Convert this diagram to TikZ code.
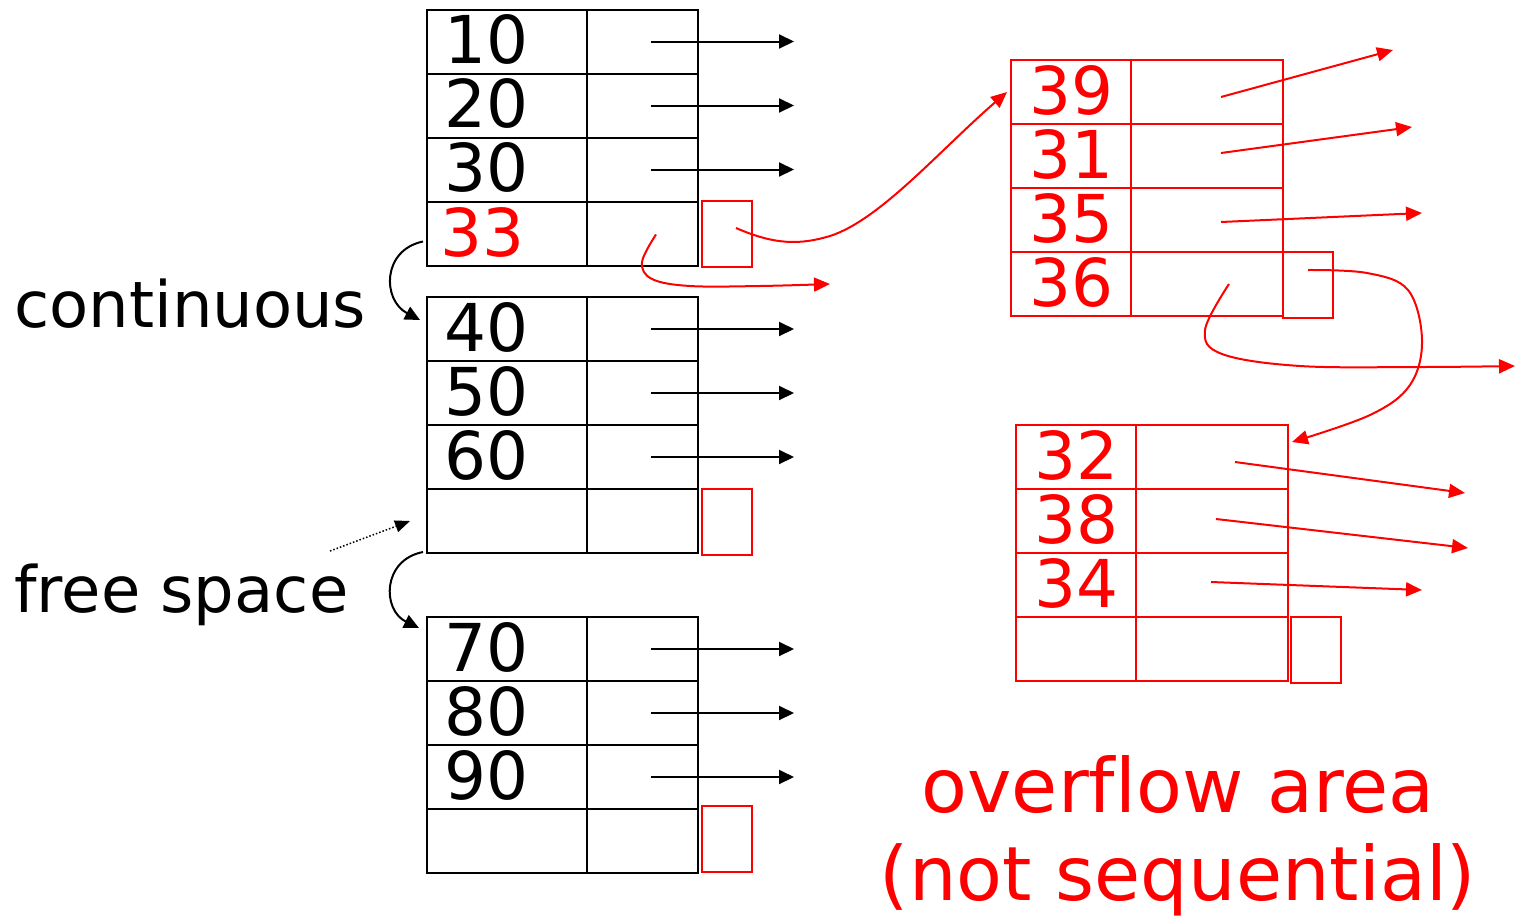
\documentclass[tikz,border=0pt]{standalone}
\usepackage{fontspec}
\setmainfont{DejaVu Sans}[Ligatures=NoCommon]
\usetikzlibrary{arrows.meta,calc}
\begin{document}
\begin{tikzpicture}[x=1pt,y=-1pt,
  cell/.style={draw, line width=2pt, inner sep=0pt, anchor=north west, minimum height=64pt},
  keycell/.style={cell, minimum width=160pt},
  ptrcell/.style={cell, minimum width=111pt},
  rkey/.style={cell, draw=red, minimum width=120pt},
  rptr/.style={cell, draw=red, minimum width=152pt},
  spare/.style={draw=red, line width=2pt, inner sep=0pt, anchor=north west, minimum width=50pt, minimum height=66pt},
  num/.style={inner sep=0pt, anchor=base west, font=\fontsize{66}{66}\selectfont},
  rnum/.style={num, text=red},
  ptr/.style={line width=2pt, -{Triangle[length=15pt,width=14pt]}},
  rarrow/.style={draw=red, line width=2pt, -{Triangle[length=16pt,width=14pt]}},
  lbl/.style={inner sep=0pt, anchor=base west, font=\fontsize{64}{64}\selectfont},
  ovl/.style={inner sep=0pt, anchor=base, text=red, font=\fontsize{75}{75}\selectfont},
]
\useasboundingbox (0,0) rectangle (1525,919);

% left blocks
\foreach \b/\y in {1/8.5,2/296,3/616}{
  \foreach \r in {0,...,3}{
    \node[keycell] (L\b-k\r) at (426,\y+64*\r) {};
    \node[ptrcell] (L\b-p\r) at (586,\y+64*\r) {};
  }
}
\node[spare] (L1-s) at (701,200) {};
\node[spare] (L2-s) at (701,488) {};
\node[spare] (L3-s) at (701,805) {};

% left numbers
\node[num] at (444,63.5) {10};
\node[num] at (444,127.5) {20};
\node[num] at (444,191.5) {30};
\node[rnum] at (440,256) {33};
\node[num] at (444,351) {40};
\node[num] at (444,415) {50};
\node[num] at (444,479) {60};
\node[num] at (444,671) {70};
\node[num] at (444,735) {80};
\node[num] at (444,799) {90};

% black pointer arrows
\foreach \b/\r in {1/0,1/1,1/2,2/0,2/1,2/2,3/0,3/1,3/2}{
  \draw[ptr] ($(L\b-p\r.center)+(8.5,0)$) -- ($(L\b-p\r.center)+(151.5,0)$);
}

% overflow block A
\foreach \r in {0,...,3}{
  \node[rkey] (A-k\r) at (1010,59+64*\r) {};
  \node[rptr] (A-p\r) at (1130,59+64*\r) {};
}
\node[spare] (A-s) at (1282,251) {};
\node[rnum] at (1029,114) {39};
\node[rnum] at (1029,178) {31};
\node[rnum] at (1029,242) {35};
\node[rnum] at (1029,306) {36};

% overflow block B
\foreach \r in {0,...,3}{
  \node[rkey] (B-k\r) at (1015,424+64*\r) {};
  \node[rptr] (B-p\r) at (1135,424+64*\r) {};
}
\node[spare] (B-s) at (1290,616) {};
\node[rnum] at (1034,479) {32};
\node[rnum] at (1034,543) {38};
\node[rnum] at (1034,607) {34};

% free ends
\coordinate (eA0) at (1393,50);
\coordinate (eA1) at (1412,127);
\coordinate (eA2) at (1422,213);
\coordinate (eA3) at (1515,366);
\coordinate (eB0) at (1465,493);
\coordinate (eB1) at (1468,548);
\coordinate (eB2) at (1422,590);
\coordinate (e33) at (830,284);
\coordinate (dotstart) at (330,551);

% red straight arrows
\draw[rarrow] ($(A-p0.center)+(14,5)$) -- (eA0);
\draw[rarrow] ($(A-p1.center)+(14,-3)$) -- (eA1);
\draw[rarrow] ($(A-p2.center)+(14,2)$) -- (eA2);
\draw[rarrow] ($(B-p0.center)+(23,5)$) -- (eB0);
\draw[rarrow] ($(B-p1.center)+(4,-2)$) -- (eB1);
\draw[rarrow] ($(B-p2.center)+(-1,-3)$) -- (eB2);

% red curved arrows
\coordinate (c1s) at ($(L1-s.center)+(9,-6)$);
\coordinate (c1e) at ($(A-k0.west)+(-3,0)$);
\draw[rarrow] (c1s) .. controls (775,245) and (800,245) .. (830,236)
  .. controls (880,220) and (940,150) .. (c1e);

\coordinate (c2s) at ($(L1-p3.center)+(13.5,1)$);
\draw[rarrow] plot[smooth,tension=0.6] coordinates {(c2s) (642,262) (652,279) (690,286) (760,286) (e33)};

\coordinate (c3s) at ($(A-p3.center)+(22,0)$);
\draw[rarrow] plot[smooth,tension=0.6] coordinates {(c3s) (1205,330) (1222,354) (1300,366) (1420,367) (eA3)};

\coordinate (c4s) at ($(A-s.center)+(0,-15)$);
\coordinate (c4e) at ($(B-p0.north east)+(3,18)$);
\draw[rarrow] plot[smooth,tension=0.6] coordinates {(c4s) (1367,273) (1408,290) (1422,340) (1410,385) (1370,415) (c4e)};

% black curved arrows
\coordinate (k1s) at ($(L1-k3.west)+(-3,8)$);
\coordinate (k1e) at ($(L2-k0.north west)+(-6,24)$);
\draw[ptr] (k1s) .. controls (382,250) and (382,300) .. (k1e);
\coordinate (k2s) at ($(L2-k3.south west)+(-3,-2)$);
\coordinate (k2e) at ($(L3-k0.north west)+(-7,12)$);
\draw[ptr] (k2s) .. controls (382,560) and (382,610) .. (k2e);

% dotted arrow
\draw[line width=1.5pt, dotted, -{Triangle[length=15pt,width=12pt]}] (dotstart) -- ($(L2-k3.west)+(-16,0)$);

% labels
\node[lbl] (cont) at (14,327) {continuous};
\node[lbl] (free) at (14,612) {free space};
\node[ovl] (ov1) at (1178,812) {overflow area};
\node[ovl] (ov2) at (1178,900) {(not sequential)};
\end{tikzpicture}
\end{document}
